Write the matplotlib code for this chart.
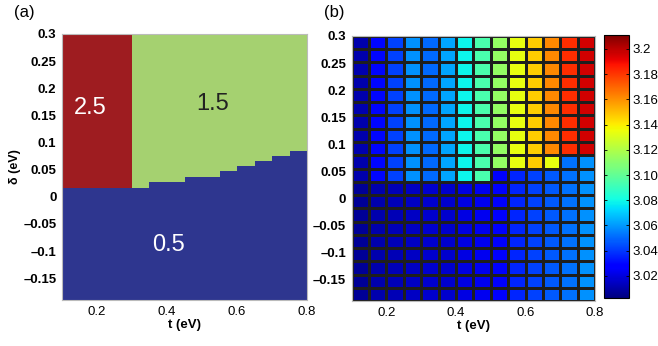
import numpy as np
import matplotlib.pyplot as plt
from matplotlib.colors import ListedColormap, BoundaryNorm

plt.rcParams['font.family'] = ['Liberation Sans', 'DejaVu Sans']

# panel (a): phase map, boundary height (eV) of the 0.5 region per t column
t_edges = np.round(np.arange(0.1, 0.8001, 0.05), 3)
low_top = [0.017, 0.017, 0.017, 0.017, 0.017, 0.027, 0.027,
           0.036, 0.036, 0.047, 0.056, 0.066, 0.075, 0.085]
red_cols = 4  # columns t < 0.3 are the 2.5 phase
phase_vals = [0.5, 1.5, 2.5]
phase_colors = ['#2e368f', '#a5d170', '#9e1c20']

# panel (b): energy grid, 14 t columns x 20 delta rows
upper_vals = [3.011, 3.030, 3.042, 3.058, 3.050, 3.062, 3.079,
              3.094, 3.113, 3.134, 3.147, 3.162, 3.182, 3.196]
lower_vals = [3.007, 3.011, 3.013, 3.015, 3.017, 3.017, 3.021,
              3.023, 3.026, 3.036, 3.042, 3.047, 3.052, 3.058]
upper_rows = [11, 11, 11, 11, 11, 11, 11, 11, 10, 10, 10, 10, 9, 9]
special = {(9, 11): 3.134}
d_edges = np.linspace(-0.19, 0.3, 21)

yticks = [0.3, 0.25, 0.2, 0.15, 0.1, 0.05, 0, -0.05, -0.1, -0.15]
ylabels = ['0.3', '0.25', '0.2', '0.15', '0.1', '0.05', '0', '\u20130.05', '\u20130.1', '\u20130.15']
xticks = [0.2, 0.4, 0.6, 0.8]
cticks = [3.02, 3.04, 3.06, 3.08, 3.10, 3.12, 3.14, 3.16, 3.18, 3.2]
clabels = ['3.02', '3.04', '3.06', '3.08', '3.10', '3.12', '3.14', '3.16', '3.18', '3.2']

fig = plt.figure(figsize=(6.58, 3.46), dpi=100)
ax1 = fig.add_axes([0.0942, 0.133, 0.3724, 0.769])
ax2 = fig.add_axes([0.5345, 0.130, 0.3698, 0.766])
cax = fig.add_axes([0.918, 0.1387, 0.0385, 0.760])

# ---- panel (a)
fine_d = np.linspace(-0.19, 0.3, 491)
dc = 0.5 * (fine_d[:-1] + fine_d[1:])
phase = np.zeros((len(dc), len(low_top)))
for j, b in enumerate(low_top):
    top = phase_vals[2] if j < red_cols else phase_vals[1]
    phase[:, j] = np.where(dc < b, phase_vals[0], top)
cmap_a = ListedColormap(phase_colors)
ax1.pcolormesh(t_edges, fine_d, phase, cmap=cmap_a,
               norm=BoundaryNorm([0, 1, 2, 3], 3), shading='flat')
ax1.text(0.18, 0.164, '2.5', color='white', fontsize=17, ha='center', va='center')
ax1.text(0.531, 0.17, '1.5', color='#222222', fontsize=17, ha='center', va='center')
ax1.text(0.403, -0.088, '0.5', color='white', fontsize=17, ha='center', va='center')

# ---- panel (b)
grid = np.zeros((20, 14))
for j in range(14):
    for r in range(20):
        grid[r, j] = upper_vals[j] if r < upper_rows[j] else lower_vals[j]
for (r, j), v in special.items():
    grid[r, j] = v
grid = grid[::-1]  # row 0 is top
mesh = ax2.pcolormesh(t_edges, d_edges, grid, cmap='jet', vmin=3.0025, vmax=3.211,
                      edgecolors='#1e1e1e', linewidth=1.0, shading='flat')

for ax in (ax1, ax2):
    ax.set_xlim(0.1, 0.8)
    ax.set_ylim(-0.19, 0.3)
    ax.set_xticks(xticks)
    ax.set_xticklabels(['0.2', '0.4', '0.6', '0.8'], fontsize=9.5)
    ax.set_yticks(yticks)
    ax.set_yticklabels(ylabels, fontsize=9.5, fontweight='bold')
    ax.tick_params(length=0, pad=4)
    ax.set_xlabel('t (eV)', fontsize=9.5, fontweight='bold', labelpad=1)
    for s in ax.spines.values():
        s.set_color('#bbbbbb')
        s.set_linewidth(0.8)
ax1.set_ylabel('\u03b4 (eV)', fontsize=9, fontweight='bold', labelpad=2)

fig.text(0.022, 0.985, '(a)', fontsize=12, va='top')
fig.text(0.492, 0.985, '(b)', fontsize=12, va='top')

cb = fig.colorbar(mesh, cax=cax, ticks=cticks)
cb.ax.set_yticklabels(clabels, fontsize=9.5)
cb.ax.tick_params(direction='in', length=2.5, width=0.6, left=True, right=True, pad=2)
cb.outline.set_linewidth(0.8)

fig.savefig('out.png', dpi=100)
